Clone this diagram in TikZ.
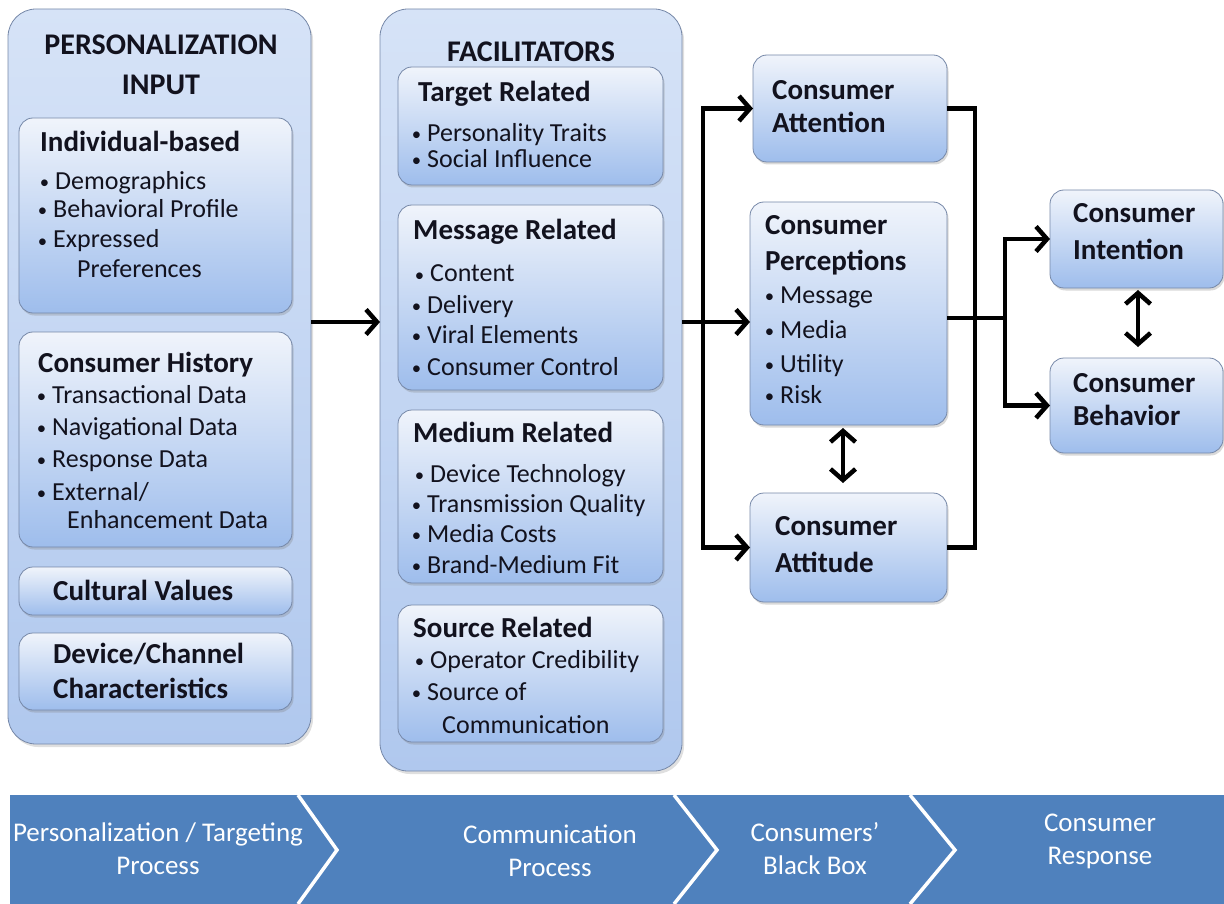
\documentclass[tikz,border=0pt]{standalone}
\usepackage{fontspec}
\setmainfont{Carlito}
\usetikzlibrary{arrows.meta,shadows,fit}

\definecolor{outtop}{RGB}{214,227,247}
\definecolor{outbot}{RGB}{176,200,238}
\definecolor{intop}{RGB}{240,244,251}
\definecolor{inbot}{RGB}{158,189,236}
\definecolor{boxline}{RGB}{118,136,168}
\definecolor{bannerblue}{RGB}{79,129,189}
\definecolor{ink}{RGB}{18,18,30}

\newcommand\hdfont{\fontsize{29}{34}\selectfont\bfseries}
\newcommand\ttlfont{\fontsize{30}{36}\selectfont\bfseries}
\newcommand\itfont{\fontsize{26}{30}\selectfont}
\newcommand\bnfont{\fontsize{27}{32}\selectfont}
\newcommand\smallbullet{\raisebox{1pt}{\scalebox{0.72}{\textbullet}}}

\tikzset{
  outerbox/.style={draw=boxline, line width=0.8pt, rounded corners=28pt,
    top color=outtop, bottom color=outbot, inner sep=0pt, outer sep=0pt,
    drop shadow={shadow xshift=2pt, shadow yshift=-3pt, opacity=0.25}},
  innerbox/.style={draw=boxline, line width=0.8pt, rounded corners=14pt,
    top color=intop, bottom color=inbot, inner sep=0pt, outer sep=0pt,
    drop shadow={shadow xshift=1.5pt, shadow yshift=-2.5pt, opacity=0.3}},
  ttl/.style={anchor=base, inner sep=0pt, text=ink, font=\ttlfont},
  hdr/.style={anchor=base west, inner sep=0pt, text=ink, font=\hdfont},
  txt/.style={anchor=base west, inner sep=0pt, text=ink, font=\itfont},
  bnr/.style={anchor=base, inner sep=0pt, text=white, font=\bnfont},
  conn/.style={line width=4.5pt, black},
  barb/.tip={Straight Barb[length=11pt,width=25pt]},
  arr/.style={conn, -barb},
  darr/.style={conn, barb-barb},
  chev/.style={white, line width=3.5pt},
}

% header line, bulleted line, continuation line
\newcommand\mkhead[4]{\node[hdr] (#1) at (#2,#3) {#4};}
\newcommand\mkitem[4]{\node[txt] (#1) at (#2,#3) {\llap{\smallbullet\hspace{6pt}}#4};}
\newcommand\mktext[4]{\node[txt] (#1) at (#2,#3) {#4};}

\begin{document}
\begin{tikzpicture}[x=1pt,y=-1pt]
\useasboundingbox (0,0) rectangle (1224,904);

% ---------- personalization input ----------
\node[outerbox, fit={(8,9) (311,744)}] (pin) {};
\node[innerbox, fit={(19,118) (292,313)}] (indiv) {};
\node[innerbox, fit={(19,332) (292,547)}] (hist) {};
\node[innerbox, fit={(19,567) (292,615)}] (cult) {};
\node[innerbox, fit={(19,633) (292,710)}] (dev) {};

\node[ttl] (pinT1) at (161,55) {PERSONALIZATION};
\node[ttl] (pinT2) at (161,95) {INPUT};

\mkhead{indivH}{40}{152}{Individual-based}
\mkitem{indiv1}{55}{190}{Demographics}
\mkitem{indiv2}{53}{218}{Behavioral Profile}
\mkitem{indiv3}{53}{248}{Expressed}
\mktext{indiv4}{77}{277}{Preferences}

\mkhead{histH}{38}{372}{Consumer History}
\mkitem{hist1}{52}{403}{Transactional Data}
\mkitem{hist2}{52}{435}{Navigational Data}
\mkitem{hist3}{52}{467}{Response Data}
\mkitem{hist4}{52}{500}{External/}
\mktext{hist5}{67}{528}{Enhancement Data}

\mkhead{cultH}{53}{600}{Cultural Values}
\mkhead{devH1}{53}{663}{Device/Channel}
\mkhead{devH2}{53}{698}{Characteristics}

% ---------- facilitators ----------
\node[outerbox, fit={(380,9) (682,771)}] (fac) {};
\node[innerbox, fit={(398,67) (663,185)}] (tgt) {};
\node[innerbox, fit={(398,205) (663,390)}] (msg) {};
\node[innerbox, fit={(398,410) (663,583)}] (med) {};
\node[innerbox, fit={(398,605) (663,742)}] (src) {};

\node[ttl] (facT) at (531,62) {FACILITATORS};

\mkhead{tgtH}{418}{102}{Target Related}
\mkitem{tgt1}{427}{142}{Personality Traits}
\mkitem{tgt2}{427}{168}{Social Influence}

\mkhead{msgH}{413}{240}{Message Related}
\mkitem{msg1}{430}{282}{Content}
\mkitem{msg2}{427}{313}{Delivery}
\mkitem{msg3}{427}{343}{Viral Elements}
\mkitem{msg4}{427}{375}{Consumer Control}

\mkhead{medH}{413}{442}{Medium Related}
\mkitem{med1}{430}{482}{Device Technology}
\mkitem{med2}{427}{512}{Transmission Quality}
\mkitem{med3}{427}{542}{Media Costs}
\mkitem{med4}{427}{573}{Brand-Medium Fit}

\mkhead{srcH}{413}{637}{Source Related}
\mkitem{src1}{430}{668}{Operator Credibility}
\mkitem{src2}{427}{700}{Source of}
\mktext{src3}{442}{733}{Communication}

% ---------- consumers' black box ----------
\node[innerbox, fit={(753,55) (947,162)}] (attn) {};
\node[innerbox, fit={(750,202) (947,425)}] (perc) {};
\node[innerbox, fit={(750,493) (947,602)}] (atti) {};

\mkhead{attnH1}{772}{100}{Consumer}
\mkhead{attnH2}{772}{133}{Attention}
\mkhead{percH1}{765}{235}{Consumer}
\mkhead{percH2}{765}{270}{Perceptions}
\mkitem{perc1}{780}{303}{Message}
\mkitem{perc2}{780}{338}{Media}
\mkitem{perc3}{780}{372}{Utility}
\mkitem{perc4}{780}{403}{Risk}
\mkhead{attiH1}{775}{535}{Consumer}
\mkhead{attiH2}{775}{572}{Attitude}

% ---------- consumer response ----------
\node[innerbox, fit={(1050,190) (1223,288)}] (int) {};
\node[innerbox, fit={(1050,358) (1223,453)}] (beh) {};

\mkhead{intH1}{1073}{223}{Consumer}
\mkhead{intH2}{1073}{260}{Intention}
\mkhead{behH1}{1073}{392}{Consumer}
\mkhead{behH2}{1073}{425}{Behavior}

% ---------- connectors ----------
\coordinate (ya) at (0,322);
\coordinate (yb) at (0,318);
\coordinate (lx) at (703,0);
\coordinate (rx) at (975,0);
\coordinate (jx) at (1005,0);
\coordinate (dx1) at (843,0);
\coordinate (dx2) at (1138,0);

\draw[arr] (pin.east |- ya) -- (fac.west |- ya);
\draw[arr] (fac.east |- ya) -- (perc.west |- ya);
\draw[arr] (lx |- ya) |- (attn.west);
\draw[arr] (lx |- ya) |- (atti.west);

\draw[conn] (attn.east) -| (rx |- atti.east) -- (atti.east);
\draw[conn] (perc.east |- yb) -- (jx |- yb);
\draw[arr] (jx |- yb) |- (int.west);
\draw[arr] (jx |- yb) |- (beh.west);

\draw[darr] ([yshift=-3pt]dx1 |- perc.south) -- ([yshift=10pt]dx1 |- atti.north);
\draw[darr] ([yshift=-2pt]dx2 |- int.south) -- ([yshift=11pt]dx2 |- beh.north);

% ---------- process banner ----------
\fill[bannerblue] (10,795) rectangle (1224,904);
\draw[chev] (298,795) -- (337,850) -- (298,904);
\draw[chev] (674,795) -- (717,850) -- (674,904);
\draw[chev] (910,795) -- (955,850) -- (910,904);

\node[bnr] (p1a) at (158,841) {Personalization / Targeting};
\node[bnr] (p1b) at (158,874) {Process};
\node[bnr] (p2a) at (550,843) {Communication};
\node[bnr] (p2b) at (550,876) {Process};
\node[bnr] (p3a) at (815,841) {Consumers’};
\node[bnr] (p3b) at (815,874) {Black Box};
\node[bnr] (p4a) at (1100,831) {Consumer};
\node[bnr] (p4b) at (1100,864) {Response};
\end{tikzpicture}
\end{document}
